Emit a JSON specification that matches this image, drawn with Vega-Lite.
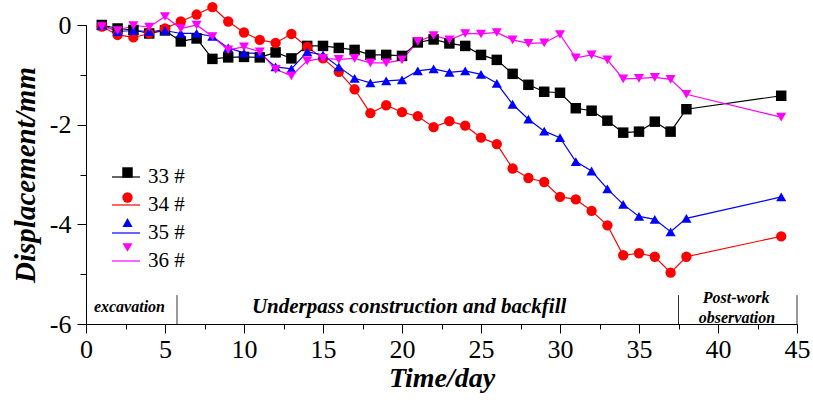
{
  "$schema": "https://vega.github.io/schema/vega-lite/v6.json",
  "width": 711,
  "height": 299,
  "autosize": {"type": "none"},
  "padding": {"left": 86, "top": 25, "right": 16, "bottom": 76},
  "background": "white",
  "resolve": {"legend": {"color": "independent", "shape": "independent", "size": "independent"}},
  "config": {
    "view": {"stroke": null},
    "font": "Liberation Serif",
    "legend": {"labelFont": "Liberation Serif"},
    "text": {"font": "Liberation Serif"},
    "axis": {"grid": false, "domainColor": "#000", "tickColor": "#000", "labelColor": "#000", "titleColor": "#000", "labelFont": "Liberation Serif", "titleFont": "Liberation Serif", "labelFontSize": 26, "titleFontSize": 28, "titleFontStyle": "italic", "titleFontWeight": "bold", "domainWidth": 1, "tickWidth": 1, "labelOverlap": false, "labelFlush": false}
  },
  "datasets": {
    "main": [
      {"day": 1, "series": "33 #", "disp": 0}, {"day": 2, "series": "33 #", "disp": -0.07}, {"day": 3, "series": "33 #", "disp": -0.1}, {"day": 4, "series": "33 #", "disp": -0.17}, {"day": 5, "series": "33 #", "disp": -0.11}, {"day": 6, "series": "33 #", "disp": -0.33}, {"day": 7, "series": "33 #", "disp": -0.27}, {"day": 8, "series": "33 #", "disp": -0.68}, {"day": 9, "series": "33 #", "disp": -0.65}, {"day": 10, "series": "33 #", "disp": -0.64}, {"day": 11, "series": "33 #", "disp": -0.65}, {"day": 12, "series": "33 #", "disp": -0.55}, {"day": 13, "series": "33 #", "disp": -0.67}, {"day": 14, "series": "33 #", "disp": -0.42}, {"day": 15, "series": "33 #", "disp": -0.42}, {"day": 16, "series": "33 #", "disp": -0.46}, {"day": 17, "series": "33 #", "disp": -0.5}, {"day": 18, "series": "33 #", "disp": -0.6}, {"day": 19, "series": "33 #", "disp": -0.6}, {"day": 20, "series": "33 #", "disp": -0.62}, {"day": 21, "series": "33 #", "disp": -0.35}, {"day": 22, "series": "33 #", "disp": -0.29}, {"day": 23, "series": "33 #", "disp": -0.37}, {"day": 24, "series": "33 #", "disp": -0.42}, {"day": 25, "series": "33 #", "disp": -0.6}, {"day": 26, "series": "33 #", "disp": -0.7}, {"day": 27, "series": "33 #", "disp": -0.98}, {"day": 28, "series": "33 #", "disp": -1.2}, {"day": 29, "series": "33 #", "disp": -1.34}, {"day": 30, "series": "33 #", "disp": -1.36}, {"day": 31, "series": "33 #", "disp": -1.67}, {"day": 32, "series": "33 #", "disp": -1.72}, {"day": 33, "series": "33 #", "disp": -1.92}, {"day": 34, "series": "33 #", "disp": -2.16}, {"day": 35, "series": "33 #", "disp": -2.14}, {"day": 36, "series": "33 #", "disp": -1.94}, {"day": 37, "series": "33 #", "disp": -2.14}, {"day": 38, "series": "33 #", "disp": -1.69}, {"day": 44, "series": "33 #", "disp": -1.42},
      {"day": 1, "series": "34 #", "disp": -0.03}, {"day": 2, "series": "34 #", "disp": -0.2}, {"day": 3, "series": "34 #", "disp": -0.25}, {"day": 4, "series": "34 #", "disp": -0.17}, {"day": 5, "series": "34 #", "disp": -0.07}, {"day": 6, "series": "34 #", "disp": 0.07}, {"day": 7, "series": "34 #", "disp": 0.21}, {"day": 8, "series": "34 #", "disp": 0.36}, {"day": 9, "series": "34 #", "disp": 0.07}, {"day": 10, "series": "34 #", "disp": -0.15}, {"day": 11, "series": "34 #", "disp": -0.3}, {"day": 12, "series": "34 #", "disp": -0.36}, {"day": 13, "series": "34 #", "disp": -0.18}, {"day": 14, "series": "34 #", "disp": -0.44}, {"day": 15, "series": "34 #", "disp": -0.67}, {"day": 16, "series": "34 #", "disp": -0.94}, {"day": 17, "series": "34 #", "disp": -1.29}, {"day": 18, "series": "34 #", "disp": -1.77}, {"day": 19, "series": "34 #", "disp": -1.61}, {"day": 20, "series": "34 #", "disp": -1.75}, {"day": 21, "series": "34 #", "disp": -1.83}, {"day": 22, "series": "34 #", "disp": -2.05}, {"day": 23, "series": "34 #", "disp": -1.93}, {"day": 24, "series": "34 #", "disp": -2.02}, {"day": 25, "series": "34 #", "disp": -2.26}, {"day": 26, "series": "34 #", "disp": -2.39}, {"day": 27, "series": "34 #", "disp": -2.88}, {"day": 28, "series": "34 #", "disp": -3.07}, {"day": 29, "series": "34 #", "disp": -3.15}, {"day": 30, "series": "34 #", "disp": -3.45}, {"day": 31, "series": "34 #", "disp": -3.5}, {"day": 32, "series": "34 #", "disp": -3.73}, {"day": 33, "series": "34 #", "disp": -4.02}, {"day": 34, "series": "34 #", "disp": -4.62}, {"day": 35, "series": "34 #", "disp": -4.58}, {"day": 36, "series": "34 #", "disp": -4.65}, {"day": 37, "series": "34 #", "disp": -4.97}, {"day": 38, "series": "34 #", "disp": -4.65}, {"day": 44, "series": "34 #", "disp": -4.24},
      {"day": 1, "series": "35 #", "disp": 0}, {"day": 2, "series": "35 #", "disp": -0.13}, {"day": 3, "series": "35 #", "disp": -0.11}, {"day": 4, "series": "35 #", "disp": -0.13}, {"day": 5, "series": "35 #", "disp": -0.11}, {"day": 6, "series": "35 #", "disp": -0.17}, {"day": 7, "series": "35 #", "disp": -0.17}, {"day": 8, "series": "35 #", "disp": -0.23}, {"day": 9, "series": "35 #", "disp": -0.46}, {"day": 10, "series": "35 #", "disp": -0.56}, {"day": 11, "series": "35 #", "disp": -0.57}, {"day": 12, "series": "35 #", "disp": -0.84}, {"day": 13, "series": "35 #", "disp": -0.88}, {"day": 14, "series": "35 #", "disp": -0.54}, {"day": 15, "series": "35 #", "disp": -0.6}, {"day": 16, "series": "35 #", "disp": -0.84}, {"day": 17, "series": "35 #", "disp": -1.07}, {"day": 18, "series": "35 #", "disp": -1.16}, {"day": 19, "series": "35 #", "disp": -1.12}, {"day": 20, "series": "35 #", "disp": -1.1}, {"day": 21, "series": "35 #", "disp": -0.92}, {"day": 22, "series": "35 #", "disp": -0.88}, {"day": 23, "series": "35 #", "disp": -0.95}, {"day": 24, "series": "35 #", "disp": -0.92}, {"day": 25, "series": "35 #", "disp": -0.99}, {"day": 26, "series": "35 #", "disp": -1.17}, {"day": 27, "series": "35 #", "disp": -1.59}, {"day": 28, "series": "35 #", "disp": -1.89}, {"day": 29, "series": "35 #", "disp": -2.13}, {"day": 30, "series": "35 #", "disp": -2.26}, {"day": 31, "series": "35 #", "disp": -2.74}, {"day": 32, "series": "35 #", "disp": -2.93}, {"day": 33, "series": "35 #", "disp": -3.29}, {"day": 34, "series": "35 #", "disp": -3.6}, {"day": 35, "series": "35 #", "disp": -3.84}, {"day": 36, "series": "35 #", "disp": -3.9}, {"day": 37, "series": "35 #", "disp": -4.15}, {"day": 38, "series": "35 #", "disp": -3.88}, {"day": 44, "series": "35 #", "disp": -3.45},
      {"day": 1, "series": "36 #", "disp": -0.03}, {"day": 2, "series": "36 #", "disp": -0.11}, {"day": 3, "series": "36 #", "disp": -0.01}, {"day": 4, "series": "36 #", "disp": -0.04}, {"day": 5, "series": "36 #", "disp": 0.17}, {"day": 6, "series": "36 #", "disp": -0.07}, {"day": 7, "series": "36 #", "disp": 0}, {"day": 8, "series": "36 #", "disp": -0.23}, {"day": 9, "series": "36 #", "disp": -0.5}, {"day": 10, "series": "36 #", "disp": -0.44}, {"day": 11, "series": "36 #", "disp": -0.54}, {"day": 12, "series": "36 #", "disp": -0.89}, {"day": 13, "series": "36 #", "disp": -1.02}, {"day": 14, "series": "36 #", "disp": -0.72}, {"day": 15, "series": "36 #", "disp": -0.67}, {"day": 16, "series": "36 #", "disp": -0.69}, {"day": 17, "series": "36 #", "disp": -0.67}, {"day": 18, "series": "36 #", "disp": -0.76}, {"day": 19, "series": "36 #", "disp": -0.76}, {"day": 20, "series": "36 #", "disp": -0.7}, {"day": 21, "series": "36 #", "disp": -0.33}, {"day": 22, "series": "36 #", "disp": -0.21}, {"day": 23, "series": "36 #", "disp": -0.3}, {"day": 24, "series": "36 #", "disp": -0.17}, {"day": 25, "series": "36 #", "disp": -0.18}, {"day": 26, "series": "36 #", "disp": -0.15}, {"day": 27, "series": "36 #", "disp": -0.3}, {"day": 28, "series": "36 #", "disp": -0.37}, {"day": 29, "series": "36 #", "disp": -0.36}, {"day": 30, "series": "36 #", "disp": -0.19}, {"day": 31, "series": "36 #", "disp": -0.66}, {"day": 32, "series": "36 #", "disp": -0.6}, {"day": 33, "series": "36 #", "disp": -0.7}, {"day": 34, "series": "36 #", "disp": -1.08}, {"day": 35, "series": "36 #", "disp": -1.07}, {"day": 36, "series": "36 #", "disp": -1.05}, {"day": 37, "series": "36 #", "disp": -1.09}, {"day": 38, "series": "36 #", "disp": -1.39}, {"day": 44, "series": "36 #", "disp": -1.85}
    ],
    "separators": [
      {"day": 5.76, "top": -5.42, "bottom": -6},
      {"day": 37.5, "top": -5.42, "bottom": -6},
      {"day": 45, "top": -5.42, "bottom": -6}
    ],
    "phaseSmall": [
      {"day": 2.75, "disp": -5.66, "label": "excavation"},
      {"day": 41.15, "disp": -5.48, "label": "Post-work"},
      {"day": 41.2, "disp": -5.88, "label": "observation"}
    ],
    "phaseBig": [
      {"day": 20.45, "disp": -5.66, "label": "Underpass construction and backfill"}
    ]
  },
  "encoding": {
    "x": {"field": "day", "type": "quantitative", "scale": {"domain": [0, 45], "nice": false, "zero": false},
      "axis": {"title": "Time/day", "values": [0, 2.5, 5, 7.5, 10, 12.5, 15, 17.5, 20, 22.5, 25, 27.5, 30, 32.5, 35, 37.5, 40, 42.5, 45],
        "labelExpr": "datum.value % 5 === 0 ? datum.label : ''",
        "tickSize": {"condition": {"test": "datum.value % 5 === 0", "value": 9}, "value": 5},
        "labelPadding": 3, "titlePadding": 2}},
    "y": {"field": "disp", "type": "quantitative", "scale": {"domain": [-6, 0], "nice": false, "zero": false},
      "axis": {"title": "Displacement/mm", "values": [-6, -5, -4, -3, -2, -1, 0],
        "labelExpr": "datum.value % 2 === 0 ? '' + datum.value : ''",
        "tickSize": {"condition": {"test": "datum.value % 2 === 0", "value": 9}, "value": 6},
        "labelPadding": 6, "titleFontSize": 29, "titlePadding": 9}}
  },
  "layer": [
    {
      "data": {"name": "separators"},
      "mark": {"type": "rule", "color": "#333", "strokeWidth": 1},
      "encoding": {"y": {"field": "top", "type": "quantitative"}, "y2": {"field": "bottom"}}
    },
    {
      "data": {"name": "main"},
      "mark": {"type": "line", "strokeWidth": 1.2},
      "encoding": {
        "color": {"field": "series", "type": "nominal", "scale": {"domain": ["33 #", "34 #", "35 #", "36 #"], "range": ["#000000", "#ff0000", "#0000ff", "#ff00ff"]},
          "legend": {"orient": "none", "legendX": 25, "legendY": 137, "title": null, "padding": 0, "labelFontSize": 21, "labelColor": "#000", "labelOffset": 7, "symbolType": "stroke", "symbolSize": 784, "symbolStrokeWidth": 1.2, "rowPadding": 3}}
      }
    },
    {
      "data": {"name": "main"},
      "mark": {"type": "point", "filled": true, "opacity": 1},
      "encoding": {
        "color": {"field": "series", "type": "nominal", "scale": {"domain": ["33 #", "34 #", "35 #", "36 #"], "range": ["#000000", "#ff0000", "#0000ff", "#ff00ff"]},
          "legend": {"orient": "none", "legendX": 31, "legendY": 137, "title": null, "padding": 0, "labelFontSize": 21, "labelOpacity": 0, "labelExpr": "' '", "labelOffset": 7, "symbolOpacity": 1, "rowPadding": 3}},
        "shape": {"field": "series", "type": "nominal", "scale": {"domain": ["33 #", "34 #", "35 #", "36 #"], "range": ["square", "circle", "triangle-up", "triangle-down"]},
          "legend": {"orient": "none", "legendX": 31, "legendY": 137, "title": null, "padding": 0, "labelFontSize": 21, "labelOpacity": 0, "labelExpr": "' '", "labelOffset": 7, "symbolOpacity": 1, "rowPadding": 3}},
        "size": {"field": "series", "type": "nominal", "scale": {"domain": ["33 #", "34 #", "35 #", "36 #"], "range": [110, 100, 160, 170]}, "legend": null}
      }
    },
    {
      "data": {"name": "phaseSmall"},
      "mark": {"type": "text", "fontSize": 16, "fontStyle": "italic", "fontWeight": "bold", "baseline": "middle", "align": "center", "color": "#000"},
      "encoding": {"text": {"field": "label"}}
    },
    {
      "data": {"name": "phaseBig"},
      "mark": {"type": "text", "fontSize": 21, "fontStyle": "italic", "fontWeight": "bold", "baseline": "middle", "align": "center", "color": "#000"},
      "encoding": {"text": {"field": "label"}}
    }
  ]
}
